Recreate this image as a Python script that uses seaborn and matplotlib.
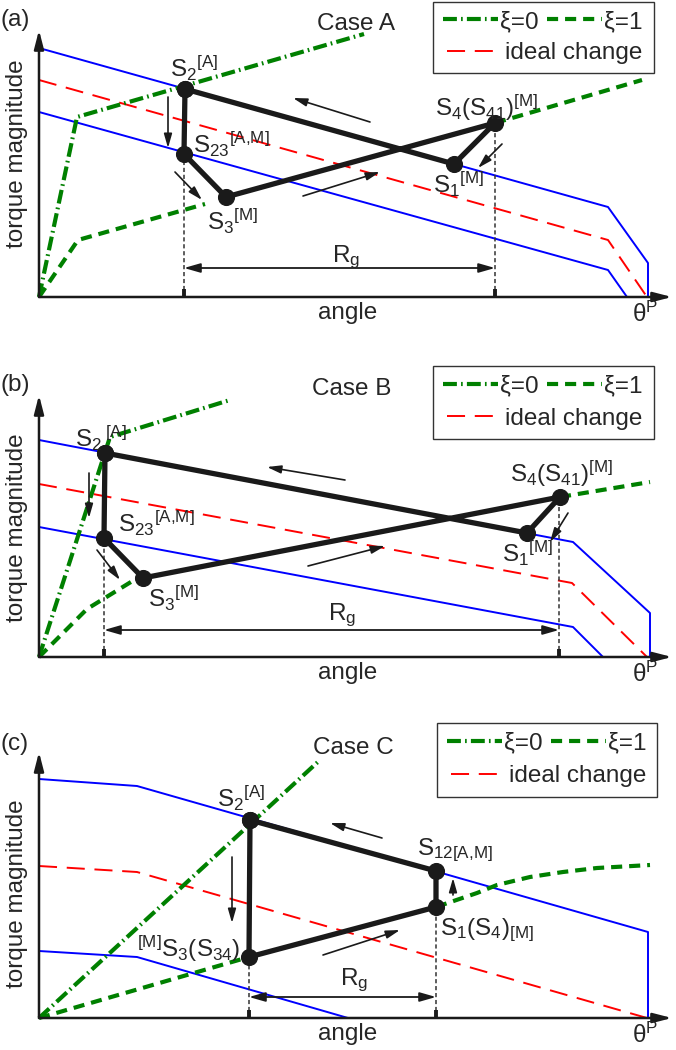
import pandas as pd
import matplotlib.pyplot as plt
import seaborn as sns
from matplotlib.lines import Line2D
from matplotlib.patches import Rectangle

sns.set_theme(style="white")
plt.rcParams["font.family"] = ["Liberation Sans", "DejaVu Sans"]
plt.rcParams["mathtext.fontset"] = "custom"
plt.rcParams["mathtext.rm"] = "Liberation Sans"
plt.rcParams["mathtext.it"] = "Liberation Sans:italic"
plt.rcParams["mathtext.bf"] = "Liberation Sans:bold"
plt.rcParams["mathtext.default"] = "regular"
plt.rcParams["lines.scale_dashes"] = False

# -----------------------------
# DATA (angle, torque) per case
# -----------------------------

# Case A
a_blue_hi = [(0, 249), (569, 90), (609, 34), (609, 0)]
a_blue_lo = [(0, 185), (569, 27), (588, 0)]
a_ideal = [(0, 217), (569, 57), (608, 0)]
a_xi0 = [(0, 0), (38, 180), (325, 263)]
a_xi1 = [[(0, 0), (39, 57), (166, 93)], [(456, 174), (603, 217)]]
a_cycle = [(146, 208), (145, 143), (187, 100), (456, 174), (415, 133), (146, 208)]
a_rg = [145, 456]
a_rg_level = 29
a_moves = [((129, 200), (129, 149)), ((136, 125), (163, 97)), ((331, 175), (254, 199)),
           ((264, 101), (341, 125)), ((463, 153), (439, 129))]

# Case B
b_blue_hi = [(0, 217), (534, 115), (611, 44), (611, 0)]
b_blue_lo = [(0, 130), (534, 30), (564, 0)]
b_ideal = [(0, 173), (533, 74), (608, 0)]
b_xi0 = [(0, 0), (71, 220), (191, 257)]
b_xi1 = [[(0, 0), (48, 48), (100, 80)], [(521, 160), (611, 175)]]
b_cycle = [(66, 204), (65, 119), (104, 79), (521, 160), (488, 124), (66, 204)]
b_rg = [65, 520]
b_rg_level = 27
b_moves = [((50, 184), (50, 139)), ((58, 107), (81, 77)), ((306, 177), (228, 190)),
           ((269, 91), (346, 111)), ((529, 144), (511, 115))]

# Case C
c_blue_hi = [(0, 239), (98, 232), (609, 86), (609, 0)]
c_blue_lo = [(0, 67), (98, 61), (309, 0)]
c_ideal = [(0, 152), (98, 146), (608, 0)]
c_xi0 = [(0, 0), (281, 258)]
c_xi1 = [[(0, 0), (210, 61)],
         [(397, 111), (438, 125), (458, 133), (491, 141), (524, 146), (558, 150), (611, 153)]]
c_cycle = [(211, 198), (210, 61), (397, 111), (397, 147), (211, 198)]
c_rg = [210, 397]
c_rg_level = 21
c_moves = [((193, 161), (193, 95)), ((343, 180), (291, 195)),
           ((284, 63), (361, 88)), ((414, 123), (414, 140))]

GREEN = "#008000"
BLUE = "#0000ff"
RED = "#ff0000"
FS = 17.5
XI0_LS = (0, (10, 3, 1.2, 3))
XI1_LS = (0, (8, 5))
IDEAL_LS = (0, (13, 7))


def curve(ax, pts, **kw):
    df = pd.DataFrame(pts, columns=["angle", "torque"])
    sns.lineplot(data=df, x="angle", y="torque", sort=False, estimator=None,
                 ax=ax, legend=False, **kw)


def arrow(ax, start, end, style, lw=1.0, ms=12, color="k"):
    ax.annotate("", xy=end, xytext=start,
                arrowprops=dict(arrowstyle=style, color=color, lw=lw,
                                shrinkA=0, shrinkB=0, mutation_scale=ms))


def draw_case(ax, case):
    curve(ax, case["blue_hi"], color=BLUE, lw=1.4)
    curve(ax, case["blue_lo"], color=BLUE, lw=1.4)
    curve(ax, case["ideal"], color=RED, lw=1.4, linestyle=IDEAL_LS)
    curve(ax, case["xi0"], color=GREEN, lw=3, linestyle=XI0_LS)
    for seg in case["xi1"]:
        curve(ax, seg, color=GREEN, lw=3, linestyle=XI1_LS)

    # axes with arrow heads
    arrow(ax, (0, 0), (0, case["ytip"]), "-|>,head_length=0.7,head_width=0.18", lw=1.8, ms=16)
    arrow(ax, (0, 0), (633, 0), "-|>,head_length=0.7,head_width=0.18", lw=1.8, ms=16)

    # guide lines down to the angle axis
    cyc = pd.DataFrame(case["cycle"], columns=["angle", "torque"])
    for x in case["rg"]:
        top = cyc.loc[cyc["angle"].sub(x).abs().idxmin(), "torque"]
        ax.vlines(x, 0, top, colors="#333333", linestyles=(0, (3, 2)), lw=1.1, zorder=2)
        ax.vlines(x, 0, 8, colors="k", lw=2.8, zorder=3)

    curve(ax, case["cycle"], color="k", lw=3.8, zorder=4)
    sns.scatterplot(data=cyc, x="angle", y="torque", s=130, color="k",
                    edgecolor="k", zorder=5, ax=ax, legend=False)

    arrow(ax, (case["rg"][0], case["rg_level"]), (case["rg"][1], case["rg_level"]),
          "<|-|>,head_length=0.7,head_width=0.2", lw=1.3, ms=14)
    for start, end in case["moves"]:
        arrow(ax, start, end, "-|>,head_length=0.7,head_width=0.2", lw=1.2, ms=12)

    for x, y, s, ha in case["labels"]:
        ax.text(x, y, s, fontsize=FS, ha=ha, va="baseline", zorder=6)
    ax.text(case["rg_label"][0], case["rg_label"][1], r"R$_g$", fontsize=FS, va="baseline")

    ax.text(-39, case["tag_y"], case["tag"], fontsize=FS, ha="left", va="center")
    ax.text(case["title_x"], case["tag_y"] - 4, case["title"], fontsize=FS, ha="left", va="center")
    ax.text(-22, case["ylab_y"], "torque magnitude", fontsize=FS, rotation=90,
            ha="center", va="center")
    ax.text(309, -16, "angle", fontsize=FS, ha="center", va="center")
    ax.text(593, -25, r"θ$^{P}$", fontsize=FS, ha="left", va="baseline")

    # legend box with two rows
    bx, by, bw, bh = case["legend_box"]
    ax.add_patch(Rectangle((bx, by), bw, bh, facecolor="white", edgecolor="#333333",
                           lw=1, zorder=7))
    h0 = Line2D([], [], color=GREEN, lw=3, linestyle=XI0_LS)
    h1 = Line2D([], [], color=GREEN, lw=3, linestyle=XI1_LS)
    h2 = Line2D([], [], color=RED, lw=1.4, linestyle=IDEAL_LS)
    leg1 = ax.legend([h0, h1], ["ξ=0", "ξ=1"], ncol=2, frameon=False, loc="center left",
                     bbox_to_anchor=(bx + 10, by + bh * 0.72), bbox_transform=ax.transData,
                     borderpad=0, borderaxespad=0, handlelength=2.25, handletextpad=0.1,
                     columnspacing=0.35, fontsize=FS)
    leg1.set_zorder(8)
    ax.add_artist(leg1)
    leg2 = ax.legend([h2], ["ideal change"], frameon=False, loc="center left",
                     bbox_to_anchor=(bx + 14, by + bh * 0.28), bbox_transform=ax.transData,
                     borderpad=0, borderaxespad=0, handlelength=2.05, handletextpad=0.35,
                     fontsize=FS)
    leg2.set_zorder(8)

    ax.set_xlim(-39, 637)
    ax.set_ylim(*case["ylim"])
    ax.set_axis_off()


case_a = dict(blue_hi=a_blue_hi, blue_lo=a_blue_lo, ideal=a_ideal, xi0=a_xi0, xi1=a_xi1,
              cycle=a_cycle, rg=a_rg, rg_level=a_rg_level, moves=a_moves,
              ytip=267, ylim=(-43, 297), tag="(a)", tag_y=277, title="Case A", title_x=278,
              ylab_y=143, rg_label=(293, 35), legend_box=(394, 224, 221, 71),
              labels=[(131, 220, r"S$_2{}^{[A]}$", "left"),
                      (154, 144, r"S$_{23}{}^{[A{,}M]}$", "left"),
                      (168, 67, r"S$_3{}^{[M]}$", "left"),
                      (396, 181, r"S$_4$(S$_{41}$)${}^{[M]}$", "left"),
                      (394, 104, r"S$_1{}^{[M]}$", "left")])

case_b = dict(blue_hi=b_blue_hi, blue_lo=b_blue_lo, ideal=b_ideal, xi0=b_xi0, xi1=b_xi1,
              cycle=b_cycle, rg=b_rg, rg_level=b_rg_level, moves=b_moves,
              ytip=262, ylim=(-33, 317), tag="(b)", tag_y=272, title="Case B", title_x=273,
              ylab_y=129, rg_label=(289, 37), legend_box=(394, 218, 221, 73),
              labels=[(36, 210, r"S$_2\,{}^{[A]}$", "left"),
                      (79, 125, r"S$_{23}{}^{[A{,}M]}$", "left"),
                      (109, 50, r"S$_3{}^{[M]}$", "left"),
                      (471, 175, r"S$_4$(S$_{41}$)${}^{[M]}$", "left"),
                      (463, 95, r"S$_1{}^{[M]}$", "left")])

case_c = dict(blue_hi=c_blue_hi, blue_lo=c_blue_lo, ideal=c_ideal, xi0=c_xi0, xi1=c_xi1,
              cycle=c_cycle, rg=c_rg, rg_level=c_rg_level, moves=c_moves,
              ytip=266, ylim=(-32, 328), tag="(c)", tag_y=274, title="Case C", title_x=274,
              ylab_y=124, rg_label=(301, 33), legend_box=(398, 221, 220, 74),
              labels=[(178, 211, r"S$_2{}^{[A]}$", "left"),
                      (201, 61, r"${}^{[M]}$S$_3$(S$_{34}$)", "right"),
                      (378, 163, r"S$_{12[A{,}M]}$", "left"),
                      (401, 83, r"S$_1$(S$_4$)${}_{[M]}$", "left")])

fig = plt.figure(figsize=(6.76, 10.5), dpi=100)
ax_a = fig.add_axes([0, 1 - 340 / 1050, 1, 340 / 1050])
ax_b = fig.add_axes([0, 1 - 690 / 1050, 1, 350 / 1050])
ax_c = fig.add_axes([0, 0, 1, 360 / 1050])

draw_case(ax_a, case_a)
draw_case(ax_b, case_b)
draw_case(ax_c, case_c)

fig.savefig("out.png", dpi=100)
